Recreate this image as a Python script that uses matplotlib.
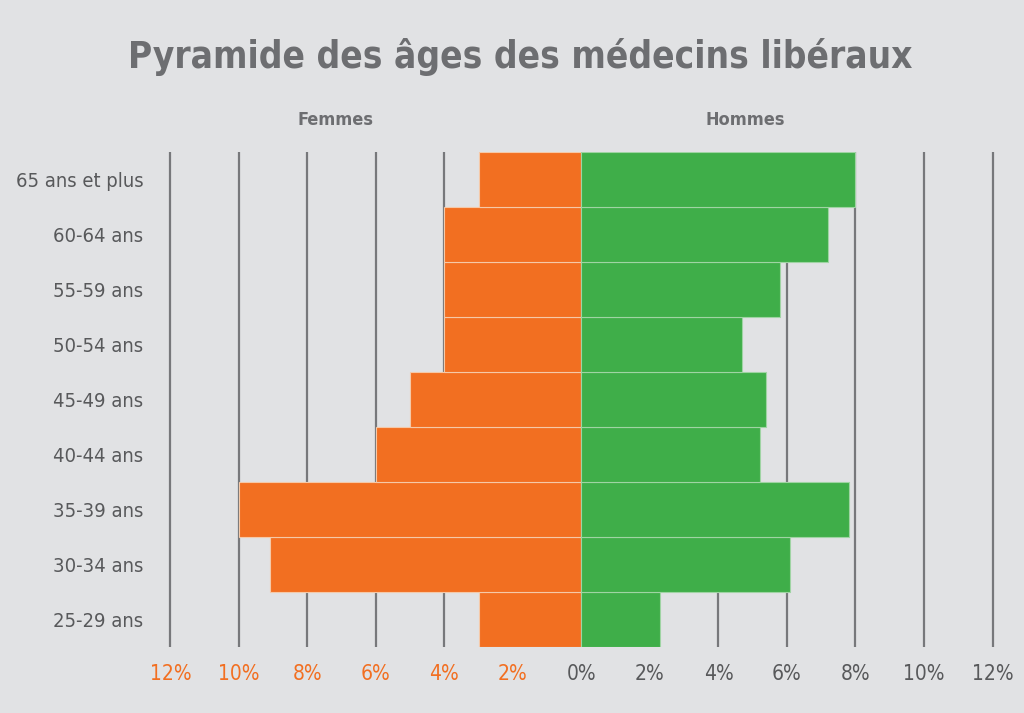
import matplotlib
matplotlib.use("Agg")
import matplotlib.pyplot as plt
import numpy as np

categories = ["25-29 ans", "30-34 ans", "35-39 ans", "40-44 ans", "45-49 ans",
              "50-54 ans", "55-59 ans", "60-64 ans", "65 ans et plus"]
femmes = [3.0, 9.1, 10.0, 6.0, 5.0, 4.0, 4.0, 4.0, 3.0]
hommes = [2.3, 6.1, 7.8, 5.2, 5.4, 4.7, 5.8, 7.2, 8.0]
ticks = [-12, -10, -8, -6, -4, -2, 0, 2, 4, 6, 8, 10, 12]
tick_labels = ["12%", "10%", "8%", "6%", "4%", "2%", "0%", "2%", "4%", "6%", "8%", "10%", "12%"]

BG = "#e1e2e4"
ORANGE = "#f26f21"
GREEN = "#3fae49"
GRID = "#77787b"
TEXT = "#58595b"
TITLE = "#6d6e71"
FONT = ["DejaVu Sans"]
ST = "condensed"

fig = plt.figure(figsize=(10.24, 7.13), dpi=100, facecolor=BG)
ax = fig.add_axes([0.163, 0.0926, 0.8096, 0.6942], facecolor=BG)

y = np.arange(len(categories))
ax.barh(y, [-v for v in femmes], height=1.0, color=ORANGE, edgecolor="#f5c9a8",
        linewidth=0.8, zorder=3)
ax.barh(y, hommes, height=1.0, color=GREEN, edgecolor="#9fd4a3",
        linewidth=0.8, zorder=3)

for t in ticks:
    ax.axvline(t, color=GRID, linewidth=1.6, zorder=1)

ax.set_xlim(-12.1, 12.1)
ax.set_ylim(-0.5, len(categories) - 0.5)
for s in ax.spines.values():
    s.set_visible(False)

ax.set_xticks(ticks)
ax.set_xticklabels(tick_labels, fontsize=15, family=FONT, fontstretch=ST)
for lbl, t in zip(ax.get_xticklabels(), ticks):
    lbl.set_color(ORANGE if t < 0 else TEXT)
ax.tick_params(axis="x", length=0, pad=12)

ax.set_yticks(y)
ax.set_yticklabels(categories, fontsize=14.5, family=FONT, color=TEXT, fontstretch=ST)
ax.tick_params(axis="y", length=0, pad=17)

fig.text(0.508, 0.92, "Pyramide des âges des médecins libéraux", ha="center", va="center",
         fontsize=26.5, fontweight="bold", color=TITLE, family=FONT, fontstretch=ST)
fig.text(0.328, 0.832, "Femmes", ha="center", va="center", fontsize=13,
         fontweight="bold", color=TITLE, family=FONT, fontstretch=ST)
fig.text(0.728, 0.832, "Hommes", ha="center", va="center", fontsize=13,
         fontweight="bold", color=TITLE, family=FONT, fontstretch=ST)

fig.savefig("out.png", dpi=100, facecolor=BG)
